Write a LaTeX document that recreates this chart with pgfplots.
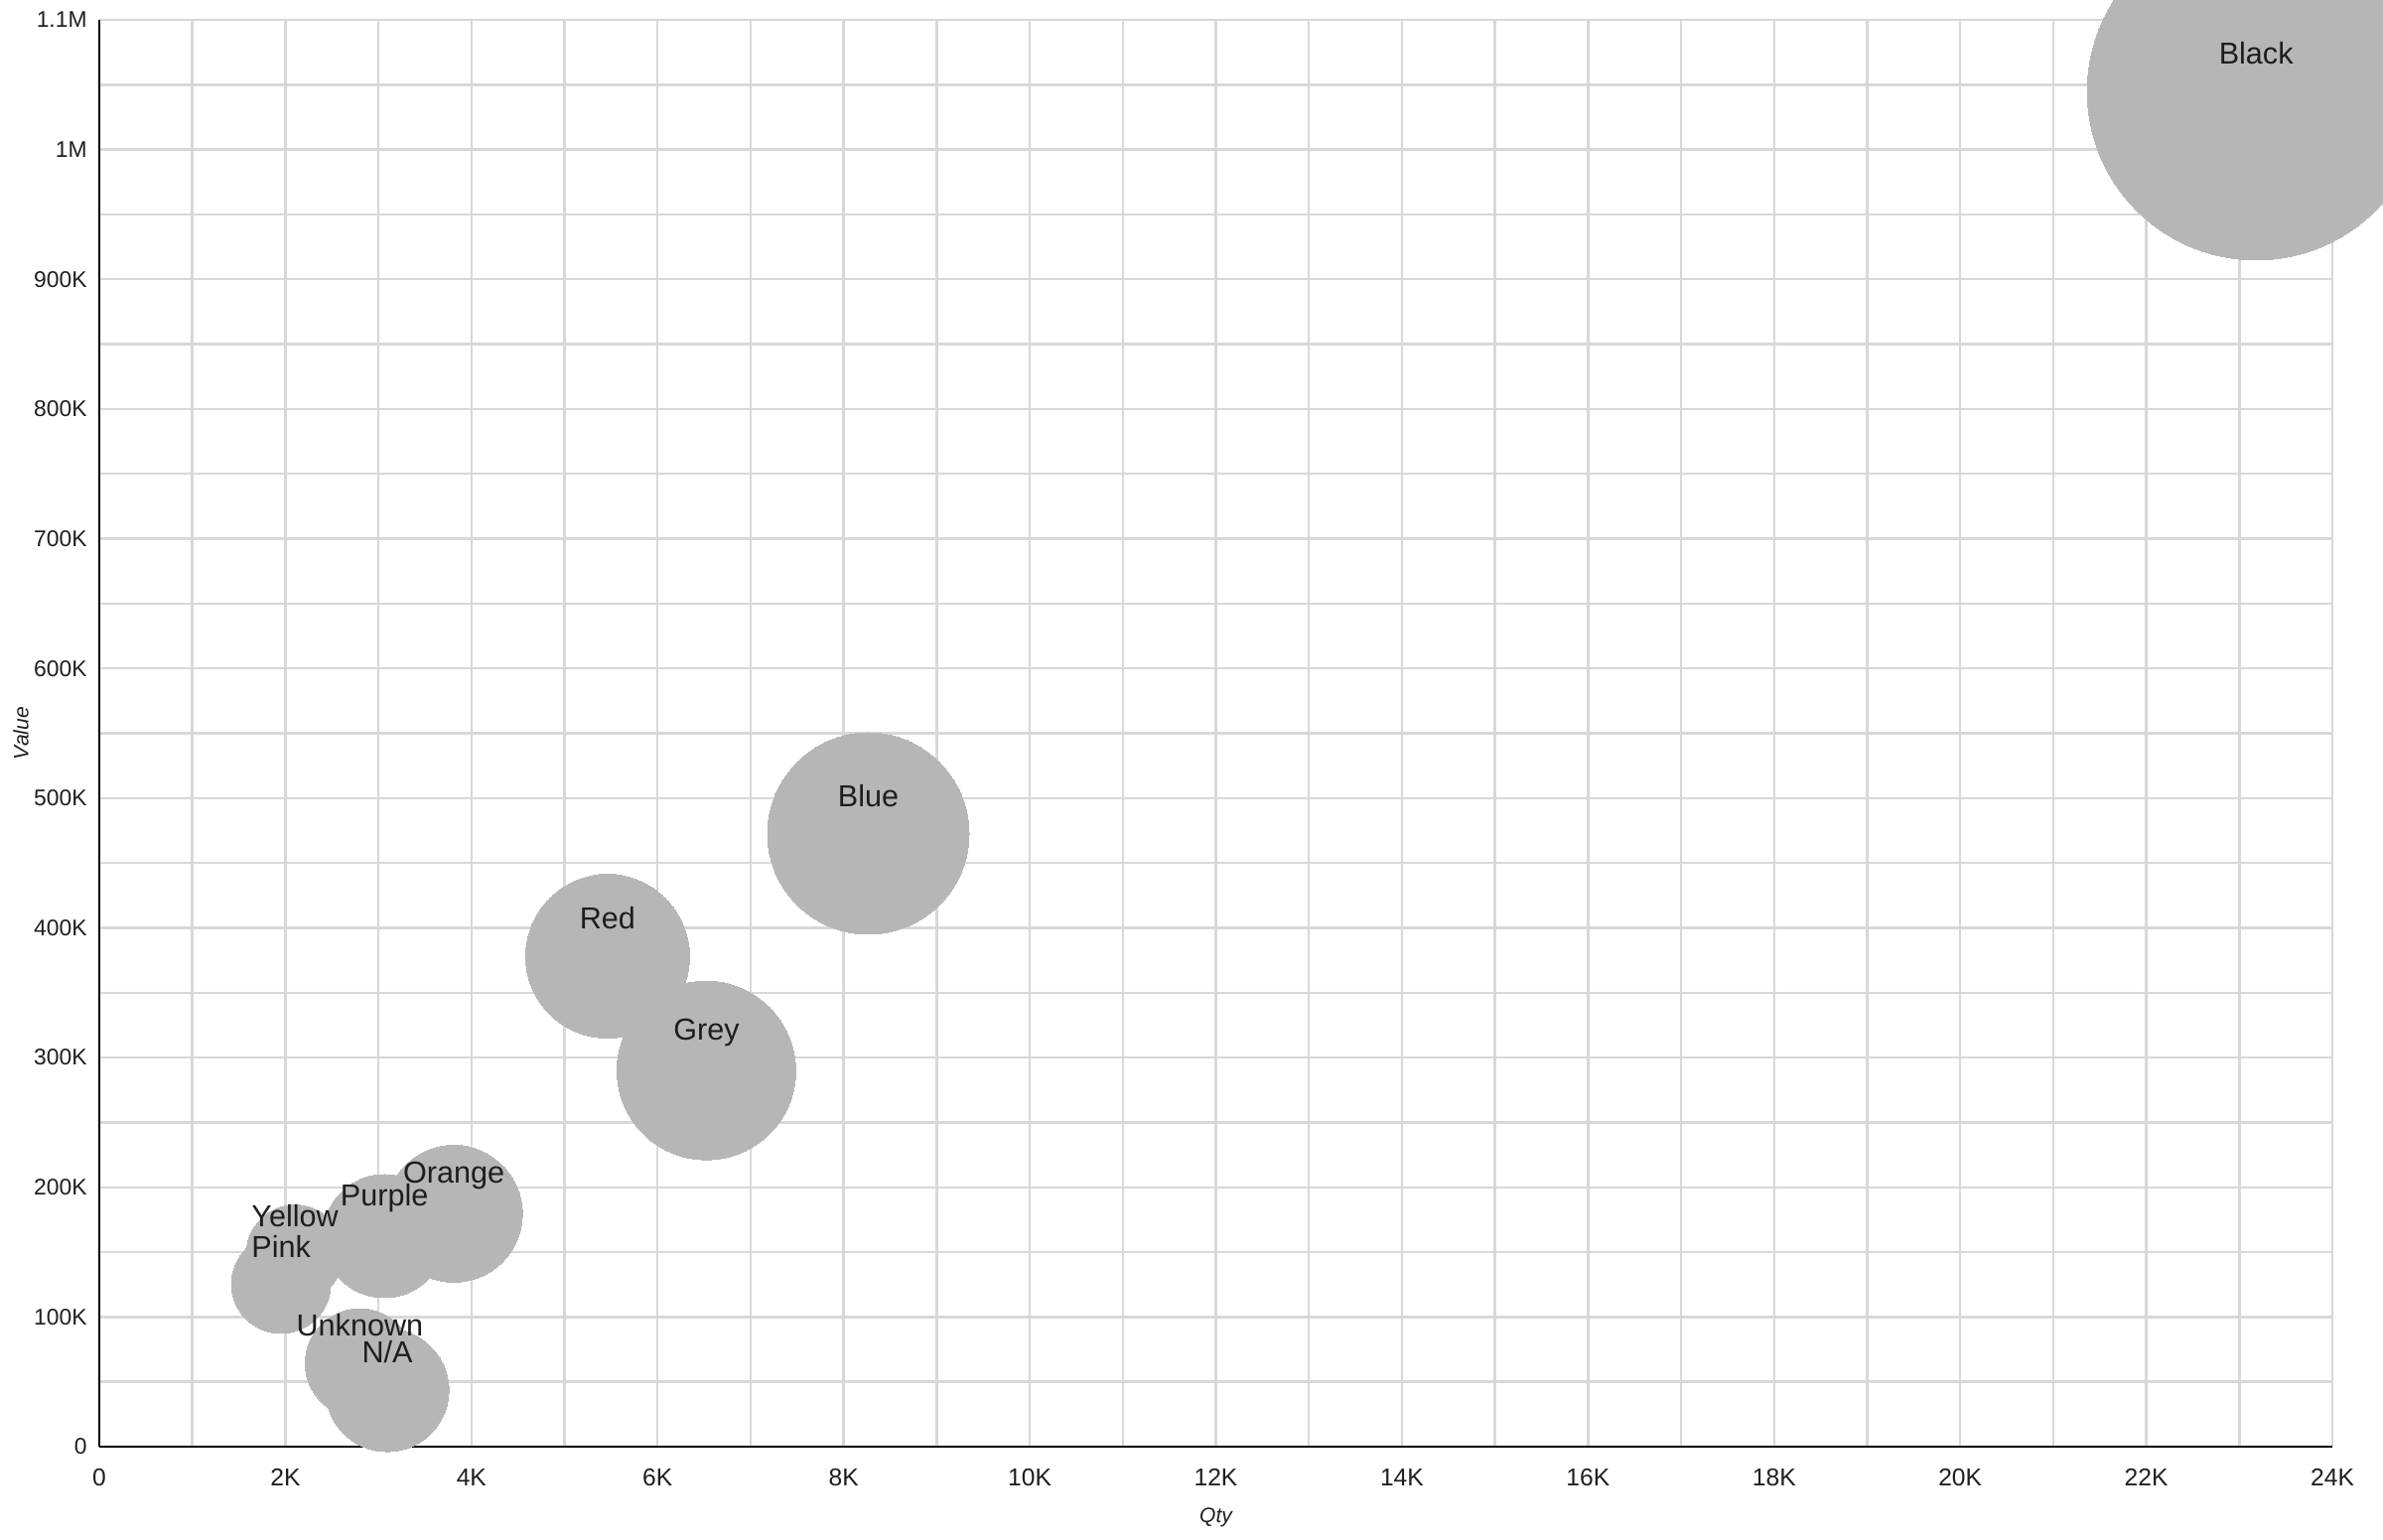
\documentclass[border=0pt]{standalone}
\usepackage{fontspec}
\setmainfont{Liberation Sans}
\usepackage{pgfplots}
\pgfplotsset{compat=1.18}
\usepackage{pgfplotstable}
\definecolor{bub}{HTML}{B5B6B5}
\definecolor{gridc}{HTML}{D8D8D8}
\definecolor{txt}{HTML}{1E1E1E}

\pgfplotstableread{
x y label
23180 1045000 Black
8265 472700 Blue
6525 290000 Grey
5463 378100 Red
3811 179600 Orange
3064 162300 Purple
2103 148900 Yellow
1954 125600 Pink
2800 64300 Unknown
3096 43600 N/A
}\bubbles

\begin{document}
\begin{tikzpicture}
\begin{axis}[
  scale only axis, width=22.49cm, height=14.37cm,
  xmin=0, xmax=24000, ymin=0, ymax=1100000,
  axis x line*=bottom, axis y line*=left,
  axis line style={black, line width=0.75pt},
  xtick={0,2000,4000,6000,8000,10000,12000,14000,16000,18000,20000,22000,24000},
  xticklabels={0,2K,4K,6K,8K,10K,12K,14K,16K,18K,20K,22K,24K},
  ytick={0,100000,200000,300000,400000,500000,600000,700000,800000,900000,1000000,1100000},
  yticklabels={0,100K,200K,300K,400K,500K,600K,700K,800K,900K,1M,1.1M},
  minor x tick num=1, minor y tick num=1,
  grid=both,
  major grid style={gridc, line width=0.7pt},
  minor grid style={gridc, line width=0.7pt},
  major tick length=0pt, minor tick length=0pt,
  scaled ticks=false,
  clip=false,
  xticklabel style={font=\fontsize{7}{8}\selectfont, text=txt, yshift=-0.1cm},
  yticklabel style={font=\fontsize{6.5}{8}\selectfont, text=txt},
  xlabel={Qty}, ylabel={Value},
  xlabel style={at={(axis description cs:0.5,-0.0494)}, anchor=center, font=\fontsize{6}{7}\selectfont\itshape, text=txt},
  ylabel style={at={(axis description cs:-0.0351,0.5)}, anchor=center, font=\fontsize{6}{7}\selectfont\itshape, text=txt},
  bubble/.style={only marks, mark=*, color=bub, mark options={draw=bub, fill=bub, line width=0pt}},
]
% bubbles (radius = bubble size)
\addplot[bubble, mark size=1.70cm]  coordinates {(23180,1045000)};
\addplot[bubble, mark size=1.015cm] coordinates {(8265,472700)};
\addplot[bubble, mark size=0.90cm]  coordinates {(6525,290000)};
\addplot[bubble, mark size=0.825cm] coordinates {(5463,378100)};
\addplot[bubble, mark size=0.69cm]  coordinates {(3811,179600)};
\addplot[bubble, mark size=0.62cm]  coordinates {(3064,162300)};
\addplot[bubble, mark size=0.49cm]  coordinates {(2103,148900)};
\addplot[bubble, mark size=0.50cm]  coordinates {(1954,125600)};
\addplot[bubble, mark size=0.55cm]  coordinates {(2800,64300)};
\addplot[bubble, mark size=0.62cm]  coordinates {(3096,43600)};
% labels
\addplot[only marks, mark=none, point meta=explicit symbolic,
  nodes near coords,
  every node near coord/.append style={anchor=center, yshift=0.38cm, font=\fontsize{8.7}{10}\selectfont, text=txt, inner sep=0pt},
] table[x=x, y=y, meta=label] {\bubbles};
\end{axis}
\pgfresetboundingbox
\useasboundingbox (-1.00,-0.93) rectangle (23.00,14.57);
\end{tikzpicture}
\end{document}
